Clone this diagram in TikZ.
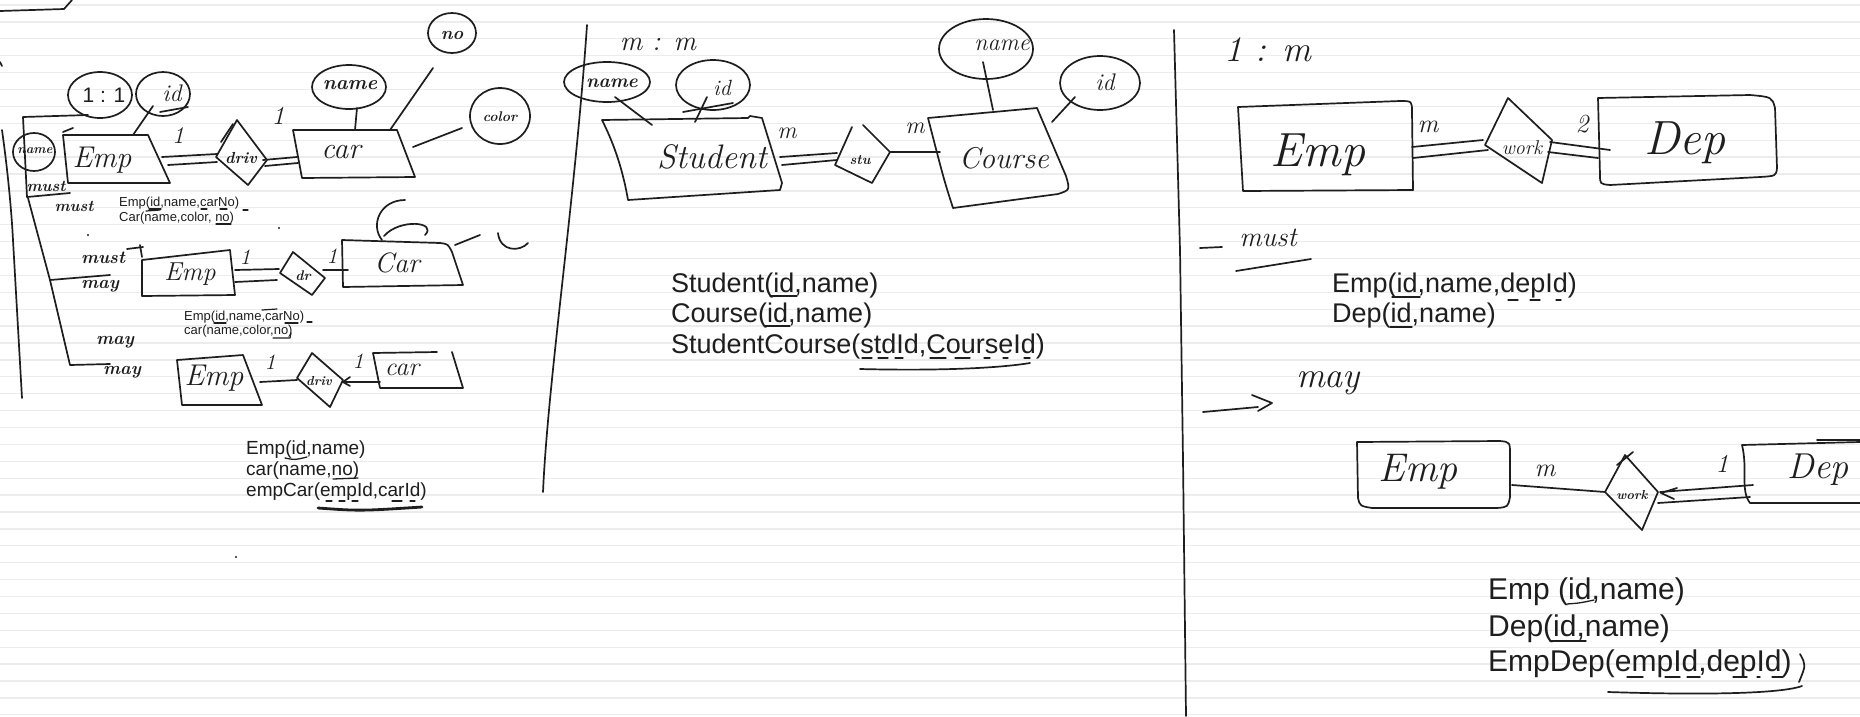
\documentclass[tikz,border=0pt]{standalone}
\usepackage{fontspec}
\newfontfamily\typed{Liberation Sans}
\newcommand\hwf{\rmfamily\itshape}
\newcommand\hwbf{\rmfamily\bfseries\itshape}
\definecolor{ink}{HTML}{1E1E1E}
\definecolor{paper}{HTML}{ECECEC}
\tikzset{
 hand/.style={draw=ink,line width=1.7pt,line cap=round,line join=round},
 hw/.style={text=ink,inner sep=0pt,font=\hwf\fontsize{#1}{#1}\selectfont},
 hwb/.style={text=ink,inner sep=0pt,font=\hwbf\fontsize{#1}{#1}\selectfont},
 tx/.style={text=ink,inner sep=0pt,anchor=base west,font=\typed\fontsize{#1}{#1}\selectfont},
 rulel/.style={draw=paper,line width=1.3pt},
 thick ink/.style={draw=ink,line width=2.8pt,line cap=round},
}
\begin{document}
\begin{tikzpicture}[x=1pt,y=-1pt]
\useasboundingbox (0,0) rectangle (1860,716);
\fill[white] (0,0) rectangle (1860,716);
\foreach \k in {0,...,42} \draw[rulel] (0,{5+16.9*\k}) -- (1860,{5+16.9*\k});

% ================= PANEL 1 =================
\draw[hand] (0,11) -- (64,9) -- (72,0);
\draw[hand] (0,62) -- (2,66);
\draw[hand] (2,130) .. controls (9,180) and (12,220) .. (13,240) -- (22,398);
\draw[hand] (88,115) -- (23,117) -- (27,197) -- (70,193);
\draw[hand] (28,198) -- (50,280) -- (110,275);
\draw[hand] (50,280) -- (70,365) -- (110,364);

\draw[hand] (100,95) ellipse [x radius=32pt, y radius=23pt];
\node[tx=21, anchor=center] (r11) at (104,95) {1 : 1};
\draw[hand] (163,94) ellipse [x radius=27pt, y radius=22pt];
\node[hw=24] (id1) at (172,93) {id};
\draw[hand] (160,112) -- (188,107);
\draw[hand] (153,106) -- (133,135);

\draw[hand] (63,135) -- (148,135) -- (170,183) -- (68,183) -- cycle;
\draw[hand] (63,132) -- (73,128);
\node[hw=30] (emp1) at (102,160) {Emp};
\draw[hand] (34,152) ellipse [x radius=21pt, y radius=19pt];
\node[hwb=13] (nm1) at (35,151) {name};
\node[hwb=16] (must1) at (46,186) {must};
\node[hwb=16] (must2) at (74,206) {must};
\node[hw=24] (one1) at (178,136) {1};
\coordinate (e1a) at (162,157); \coordinate (e1b) at (168,165);
\coordinate (d1wa) at (217,154); \coordinate (d1wb) at (217,162);
\draw[hand] (e1a) -- (d1wa); \draw[hand] (e1b) -- (d1wb);
\coordinate (d1t) at (237,120); \coordinate (d1r) at (267,160);
\coordinate (d1b) at (248,185); \coordinate (d1l) at (216,157);
\draw[hand] (d1t) -- (d1r) -- (d1b) -- (d1l) -- cycle;
\draw[hand] (221,142) -- (233,124);
\node[hwb=16] (drv1) at (241,158) {driv};
\coordinate (d1ea) at (263,160); \coordinate (c1a) at (297,157);
\coordinate (d1eb) at (265,166); \coordinate (c1b) at (298,163);
\draw[hand] (d1ea) -- (c1a); \draw[hand] (d1eb) -- (c1b);
\node[hw=26] (one2) at (278,116) {1};
\draw[hand] (293,130) -- (397,130) -- (415,177) -- (302,178) -- cycle;
\node[hw=30] (car1) at (341,152) {car};
\draw[hand] (349,87) ellipse [x radius=37pt, y radius=22pt];
\node[hwb=20] (nm2) at (350,85) {name};
\draw[hand] (357,108) -- (355,130);
\draw[hand] (452,33) ellipse [x radius=24pt, y radius=20pt];
\node[hwb=18] (no1) at (452,35) {no};
\draw[hand] (433,68) -- (390,130);
\draw[hand] (500,116) ellipse [x radius=30pt, y radius=28pt];
\node[hwb=14] (col1) at (500,117) {color};
\draw[hand] (413,147) -- (462,128);

\node[tx=13] (t1a) at (119,206) {Emp(id,name,carNo)};
\node[tx=13] (t1b) at (119,221) {Car(name,color, no)};
\draw[hand,line width=1.2pt] (149,209) -- (161,209);
\draw[hand,line width=1.2pt] (201,209) -- (207,209);
\draw[hand,line width=1.2pt] (220,209) -- (227,209);
\draw[hand,line width=1.2pt] (243,210) -- (248,210);
\draw[hand,line width=1.2pt] (146,211) -- (160,210);
\draw[hand,line width=1.2pt] (216,224) -- (231,224);
\fill[ink] (88,235) circle (1.2pt);
\fill[ink] (279,228) circle (1.2pt);

% row 2
\node[hwb=18] (must3) at (103,258) {must};
\node[hwb=18] (may1) at (100,286) {may};
\draw[hand] (127,249) -- (143,247); \draw[hand] (140,245) -- (142,257);
\draw[hand] (142,260) -- (230,250) -- (235,295) -- (142,296) -- cycle;
\node[hw=26] (emp2) at (190,274) {Emp};
\node[hw=22] (one3) at (245,257) {1};
\coordinate (e2a) at (235,270); \coordinate (d2a) at (279,269);
\coordinate (e2b) at (235,282); \coordinate (d2b) at (277,280);
\draw[hand] (e2a) -- (d2a); \draw[hand] (e2b) -- (d2b);
\draw[hand] (293,252) -- (325,278) -- (312,295) -- (280,273) -- cycle;
\node[hwb=14] (drv2) at (303,276) {dr};
\node[hw=22] (one4) at (332,256) {1};
\coordinate (d2r) at (323,270); \coordinate (c2l) at (348,270);
\draw[hand] (d2r) -- (c2l);
\draw[hand] (342,240) -- (440,243) .. controls (448,244) .. (452,252) -- (463,285) -- (343,287) -- cycle;
\node[hw=28] (car2) at (397,263) {Car};
\draw[hand] (405,200) .. controls (380,200) and (370,225) .. (382,240);
\draw[hand] (384,236) .. controls (400,218) and (438,222) .. (425,235);
\draw[hand] (455,245) -- (480,235);
\draw[hand] (498,233) .. controls (500,252) and (520,252) .. (528,243);
\node[tx=13] (t2a) at (184,320) {Emp(id,name,carNo)};
\node[tx=13] (t2b) at (184,334) {car(name,color,no)};
\draw[hand,line width=1.2pt] (214,323) -- (226,323);
\draw[hand,line width=1.2pt] (262,310) -- (277,309);
\draw[hand,line width=1.2pt] (285,323) -- (298,323);
\draw[hand,line width=1.2pt] (307,322) -- (312,322);
\draw[hand,line width=1.2pt] (273,338) -- (290,338) -- (291,333);

% row 3
\node[hwb=18] (may2) at (115,342) {may};
\node[hwb=18] (may3) at (122,372) {may};
\draw[hand] (177,360) -- (243,355) -- (262,405) -- (182,405) -- cycle;
\node[hw=30] (emp3) at (214,378) {Emp};
\node[hw=22] (one5) at (270,362) {1};
\coordinate (e3r) at (260,382); \coordinate (d3l) at (297,380);
\draw[hand] (e3r) -- (d3l);
\draw[hand] (312,353) -- (343,380) -- (330,407) -- (297,378) -- cycle;
\node[hwb=13] (drv3) at (319,381) {driv};
\node[hw=22] (one6) at (358,361) {1};
\coordinate (d3r) at (343,382); \coordinate (c3l) at (380,382);
\draw[hand] (d3r) -- (c3l);
\draw[hand] (350,377) -- (343,382) -- (350,386);
\draw[hand] (437,352) -- (373,353) -- (380,388) -- (463,388) -- (452,352);
\node[hw=26] (car3) at (402,370) {car};
\node[tx=19] (t3a) at (246,454) {Emp(id,name)};
\node[tx=19] (t3b) at (246,475) {car(name,no)};
\node[tx=19] (t3c) at (246,496) {empCar(empId,carId)};
\draw[hand,line width=1.3pt] (285,458) .. controls (295,460) .. (307,457);
\draw[hand,line width=1.3pt] (333,479) -- (358,478);
\foreach \a/\b in {326/332,339/345,352/358,392/402,410/415}
  \draw[hand,line width=1.3pt] (\a,501) -- (\b,501);
\draw[thick ink] (318,508) .. controls (360,511) .. (422,507);
\fill[ink] (236,557) circle (1.2pt);

\draw[hand] (587,25) .. controls (575,200) and (548,380) .. (543,492);

% ================= PANEL 2 =================
\node[hw=28] (mm) at (658,44) {m : m};
\draw[hand] (607,82) ellipse [x radius=43pt, y radius=20pt];
\node[hwb=19] (nm3) at (612,83) {name};
\draw[hand] (615,97) -- (652,125);
\draw[hand] (713,85) ellipse [x radius=37pt, y radius=25pt];
\node[hw=22] (id2) at (722,88) {id};
\draw[hand] (683,112) -- (733,103);
\draw[hand] (707,97) -- (695,122);
\draw[hand] (602,120) -- (748,118) -- (750,116) -- (762,118) -- (782,183) -- (780,190) -- (628,200) .. controls (622,165) and (612,140) .. (602,120);
\node[hw=34] (stud) at (712,157) {Student};
\node[hw=24] (m1) at (787,133) {m};
\coordinate (s1a) at (780,157); \coordinate (sd1a) at (837,153);
\coordinate (s1b) at (782,165); \coordinate (sd1b) at (837,160);
\draw[hand] (s1a) -- (sd1a); \draw[hand] (s1b) -- (sd1b);
\draw[hand] (852,127) -- (835,165) -- (872,183) -- (890,152) -- (863,125);
\node[hwb=14] (stu) at (860,160) {stu};
\coordinate (sdr) at (890,152); \coordinate (crl) at (940,152);
\draw[hand] (sdr) -- (crl);
\node[hw=24] (m2) at (915,128) {m};
\draw[hand] (928,118) -- (1037,108) -- (1066,176) .. controls (1070,190) .. (1058,194) -- (953,208) .. controls (944,180) .. (928,118);
\node[hw=30] (crs) at (1004,158) {Course};
\draw[hand] (986,49) ellipse [x radius=47pt, y radius=30pt];
\node[hw=24] (nm4) at (1002,45) {name};
\draw[hand] (983,62) -- (993,110);
\draw[hand] (1100,83) ellipse [x radius=40pt, y radius=27pt];
\node[hw=24] (id3) at (1105,82) {id};
\draw[hand] (1052,122) -- (1075,97);
\node[tx=27] (s1) at (671,292) {Student(id,name)};
\node[tx=27] (s2) at (671,322) {Course(id,name)};
\node[tx=27] (s3) at (671,353) {StudentCourse(stdId,CourseId)};
\draw[hand,line width=1.3pt] (770,296) -- (797,296);
\draw[hand,line width=1.3pt] (765,326) -- (790,326);
\foreach \a/\b in {862/872,878/888,895/903,930/946,955/970,984/990,1003/1008,1024/1030}
  \draw[hand,line width=1.3pt] (\a,358) -- (\b,358);
\draw[hand] (860,369) .. controls (940,371) and (1000,368) .. (1030,363);

\draw[hand] (1174,30) -- (1180,250) -- (1183,460) -- (1186,716);

% ================= PANEL 3 =================
\node[hw=36] (r1m) at (1268,50) {1 : m};
\draw[hand] (1238,107) -- (1400,101) .. controls (1412,101) .. (1412,112) -- (1413,190) -- (1243,191) -- cycle;
\node[hw=48] (emp4) at (1318,155) {Emp};
\node[hw=26] (m3) at (1428,127) {m};
\coordinate (e4a) at (1412,147); \coordinate (w1a) at (1483,140);
\coordinate (e4b) at (1413,158); \coordinate (w1b) at (1488,150);
\draw[hand] (e4a) -- (w1a); \draw[hand] (e4b) -- (w1b);
\draw[hand] (1508,98) -- (1552,140) -- (1542,183) -- (1485,145) -- cycle;
\node[hw=20] (wrk1) at (1522,148) {work};
\node[hw=26] (two1) at (1582,124) {2};
\coordinate (w1c) at (1550,142); \coordinate (dp1a) at (1610,150);
\coordinate (w1d) at (1548,152); \coordinate (dp1b) at (1598,158);
\draw[hand] (w1c) -- (dp1a); \draw[hand] (w1d) -- (dp1b);
\draw[hand] (1598,98) -- (1750,95) .. controls (1772,97) .. (1775,108) -- (1777,168) .. controls (1776,176) .. (1760,177) -- (1610,185) .. controls (1600,184) .. (1600,175) -- cycle;
\node[hw=48] (dep1) at (1685,143) {Dep};
\draw[hand] (1200,248) -- (1222,247);
\node[hw=28] (must4) at (1268,238) {must};
\draw[hand] (1236,271) -- (1311,259);
\node[tx=27] (p1) at (1332,292) {Emp(id,name,depId)};
\node[tx=27] (p2) at (1332,322) {Dep(id,name)};
\draw[hand,line width=1.3pt] (1392,297) -- (1420,297);
\draw[hand,line width=1.3pt] (1390,327) -- (1412,327);
\foreach \a/\b in {1508/1518,1530/1540,1556/1561}
  \draw[hand,line width=1.3pt] (\a,300) -- (\b,300);

\draw[hand] (1203,412) -- (1258,407);
\draw[hand] (1252,395) -- (1272,403) -- (1258,411);
\node[hw=36] (may4) at (1328,383) {may};
\draw[hand] (1357,442) -- (1500,441) .. controls (1510,442) .. (1510,455) -- (1510,497) .. controls (1508,507) .. (1497,508) -- (1372,508) .. controls (1360,506) .. (1358,498) -- cycle;
\node[hw=40] (emp5) at (1418,472) {Emp};
\node[hw=26] (m4) at (1545,471) {m};
\coordinate (e5r) at (1512,485); \coordinate (w2l) at (1605,492);
\draw[hand] (e5r) -- (w2l);
\draw[hand] (1625,455) -- (1658,492) -- (1642,530) -- (1605,492) -- cycle;
\draw[hand] (1617,465) -- (1633,452);
\node[hwb=13] (wrk2) at (1632,495) {work};
\node[hw=26] (one7) at (1722,464) {1};
\coordinate (w2a) at (1660,492); \coordinate (dp2a) at (1753,485);
\coordinate (w2b) at (1658,503); \coordinate (dp2b) at (1750,497);
\draw[hand] (w2a) -- (dp2a); \draw[hand] (w2b) -- (dp2b);
\draw[hand] (1677,488) -- (1661,493) -- (1674,499);
\draw[hand] (1860,442) -- (1742,445) .. controls (1748,470) and (1740,490) .. (1750,503) -- (1860,503);
\draw[hand] (1817,440) -- (1860,440);
\node[hw=36] (dep2) at (1818,470) {Dep};
\node[tx=30] (q1) at (1488,599) {Emp (id,name)};
\node[tx=30] (q2) at (1488,636) {Dep(id,name)};
\node[tx=30] (q3) at (1488,671) {EmpDep(empId,depId)};
\draw[hand,line width=1.3pt] (1567,604) .. controls (1580,603) .. (1594,600);
\draw[hand,line width=1.3pt] (1550,641) -- (1586,641);
\foreach \a/\b in {1627/1643,1665/1680,1687/1700,1733/1747,1757/1760,1772/1783}
  \draw[hand,line width=1.3pt] (\a,677) -- (\b,677);
\draw[hand] (1608,692) .. controls (1700,695) and (1780,694) .. (1802,686);
\draw[hand] (1800,654) .. controls (1806,665) .. (1799,682);
\end{tikzpicture}
\end{document}
